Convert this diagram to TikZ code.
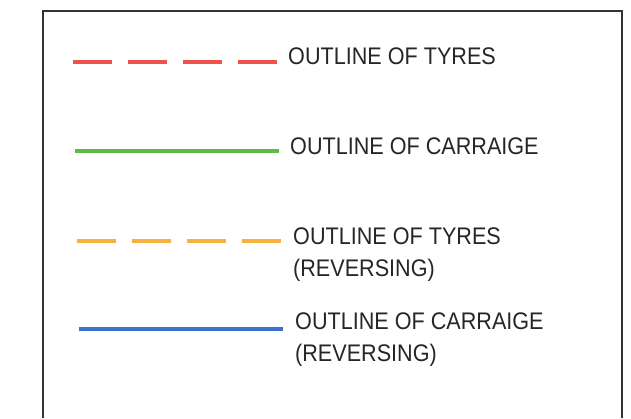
\documentclass[tikz,border=0pt]{standalone}
\usepackage{fontspec}
\setmainfont{Liberation Sans}[FakeStretch=0.9]
\definecolor{tyrered}{RGB}{240,82,78}
\definecolor{carrgreen}{RGB}{92,186,70}
\definecolor{revorange}{RGB}{246,178,62}
\definecolor{revblue}{RGB}{62,112,208}

\begin{document}
\begin{tikzpicture}[x=1pt, y=-1pt]
\tikzstyle{every node}=[inner sep=0pt, anchor=north west, align=left, text=black!85, font=\fontsize{24}{32}\selectfont];
\tikzstyle{keyline}=[line width=4pt];
\tikzstyle{keydash}=[keyline, dash pattern=on 39pt off 16pt];
\useasboundingbox (0,0) rectangle (631,418);
\draw[line width=2pt, black!80] (43,418) -- (43,11) -- (622,11) -- (622,418);
\coordinate (tyresA) at (73,62);
\coordinate (tyresB) at (277,62);
\coordinate (carrA) at (75,150.5);
\coordinate (carrB) at (279,150.5);
\coordinate (revtyresA) at (77,241);
\coordinate (revtyresB) at (281,241);
\coordinate (revcarrA) at (79,329);
\coordinate (revcarrB) at (283,329);
\node (tyres) at (288,48) {OUTLINE OF TYRES};
\node (carr) at (290,137.5) {OUTLINE OF CARRAIGE};
\node (revtyres) at (293,227.5) {OUTLINE OF TYRES\\(REVERSING)};
\node (revcarr) at (295,312.5) {OUTLINE OF CARRAIGE\\(REVERSING)};
\draw [keydash, tyrered] (tyresA) -- (tyresB);
\draw [keyline, carrgreen] (carrA) -- (carrB);
\draw [keydash, revorange] (revtyresA) -- (revtyresB);
\draw [keyline, revblue] (revcarrA) -- (revcarrB);
\end{tikzpicture}
\end{document}
